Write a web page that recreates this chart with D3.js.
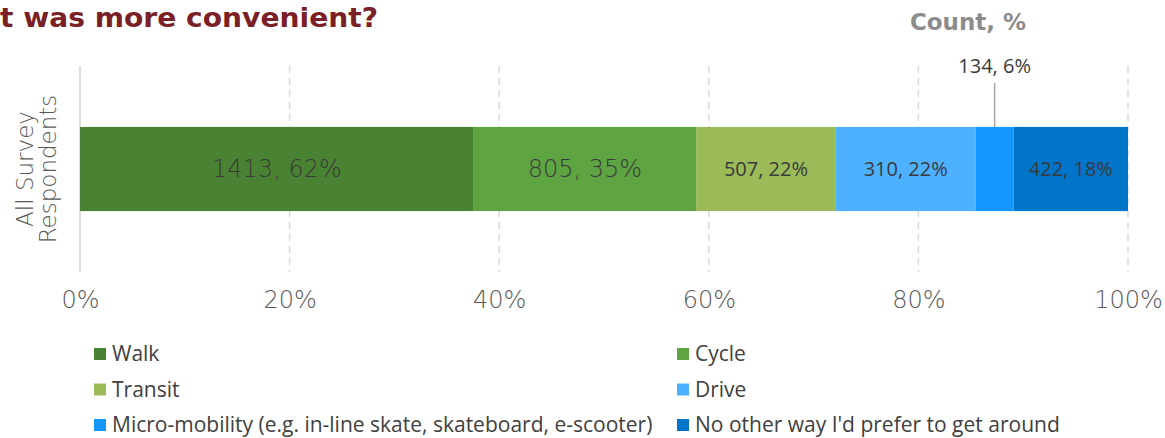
<!DOCTYPE html>
<html>
<head>
<meta charset="utf-8">
<script src="https://cdn.jsdelivr.net/npm/d3@7"></script>
<style>
  body { margin: 0; background: #fff; }
  svg { display: block; }
</style>
</head>
<body>
<div id="chart"></div>
<script>
//*********************** DATA ***********************
var modes = ["Walk", "Cycle", "Transit", "Drive",
             "Micro-mobility (e.g. in-line skate, skateboard, e-scooter)",
             "No other way I'd prefer to get around"],
    counts = [1413, 805, 507, 310, 134, 422],
    pcts = [62, 35, 22, 22, 6, 18],
    colors = ["#4a8233", "#5fa443", "#9bbb59", "#4db1ff", "#1497fe", "#0074c9"],
    rowLabel = ["All Survey", "Respondents"],
    ticks = [0, 0.2, 0.4, 0.6, 0.8, 1.0];

//*********************** SETUP ***********************
var width = 1165,
    height = 438,
    margin = {top: 66, bottom: 166, left: 80, right: 37};

var svg = d3.select("#chart").append("svg")
  .attr("width", width)
  .attr("height", height);

var total = d3.sum(pcts);
var stacked = [];
var acc = 0;
pcts.forEach(function(p, i) {
  stacked.push({mode: modes[i], count: counts[i], pct: p, x0: acc / total, x1: (acc + p) / total, color: colors[i]});
  acc += p;
});

var xScale = d3.scaleLinear().domain([0, 1]).range([margin.left, width - margin.right]),
    yScale = d3.scaleBand().domain(["All"]).range([margin.top, height - margin.bottom]).padding(0.42);

var gothamish = "'DejaVu Sans', sans-serif",
    bodyFont = "'Open Sans', sans-serif";

//title (cut off at left edge like the source)
svg.append("text")
  .attr("x", 0)
  .attr("y", 27)
  .attr("textLength", 378)
  .attr("lengthAdjust", "spacingAndGlyphs")
  .style("font-family", gothamish)
  .style("font-weight", "bold")
  .style("font-size", "27px")
  .style("fill", "#7b1f26")
  .text("t was more convenient?");

svg.append("text")
  .attr("x", 968)
  .attr("y", 30)
  .attr("text-anchor", "middle")
  .style("font-family", gothamish)
  .style("font-weight", "bold")
  .style("font-size", "23px")
  .style("fill", "#8c8c8c")
  .text("Count, %");

//gridlines
svg.append("g").selectAll("line")
  .data(ticks.slice(1))
  .enter().append("line")
  .attr("x1", function(d) { return xScale(d); })
  .attr("x2", function(d) { return xScale(d); })
  .attr("y1", margin.top)
  .attr("y2", height - margin.bottom)
  .attr("stroke", "#d9d9d9")
  .attr("stroke-width", 1.5)
  .attr("stroke-dasharray", "7,5");

//axis line at 0
svg.append("line")
  .attr("x1", xScale(0)).attr("x2", xScale(0))
  .attr("y1", margin.top).attr("y2", height - margin.bottom)
  .attr("stroke", "#d0d0d0")
  .attr("stroke-width", 1.5);

//x axis tick labels
var xAxis = d3.axisBottom(xScale).tickValues(ticks).tickFormat(d3.format(".0%")).tickSize(0).tickPadding(0);
var gx = svg.append("g")
  .attr("transform", "translate(0," + (height - margin.bottom) + ")")
  .call(xAxis);
gx.select(".domain").remove();
gx.selectAll("text")
  .attr("y", 36)
  .attr("dy", 0)
  .style("font-family", gothamish)
  .style("font-weight", "200")
  .style("font-size", "24px")
  .style("fill", "#595959");

//y label
var yl = svg.append("text")
  .attr("transform", "translate(36," + (yScale("All") + yScale.bandwidth() / 2) + ") rotate(-90)")
  .attr("text-anchor", "middle")
  .style("font-family", gothamish)
  .style("font-weight", "200")
  .style("font-size", "23px")
  .style("fill", "#595959");
yl.selectAll("tspan")
  .data(rowLabel)
  .enter().append("tspan")
  .attr("x", 0)
  .attr("y", function(d, i) { return i * 23 - 3; })
  .text(function(d) { return d; });

//bars
var by = yScale("All"), bh = yScale.bandwidth();
svg.append("g").selectAll("rect")
  .data(stacked)
  .enter().append("rect")
  .attr("x", function(d) { return xScale(d.x0); })
  .attr("width", function(d) { return xScale(d.x1) - xScale(d.x0); })
  .attr("y", by)
  .attr("height", bh)
  .attr("fill", function(d) { return d.color; });

//bar labels (first two in the title font, rest in body font)
svg.append("g").selectAll("text")
  .data(stacked.filter(function(d) { return d.pct > 10; }))
  .enter().append("text")
  .attr("x", function(d) { return (xScale(d.x0) + xScale(d.x1)) / 2; })
  .attr("y", by + bh / 2)
  .attr("dy", "0.35em")
  .attr("text-anchor", "middle")
  .style("font-family", function(d, i) { return i < 2 ? gothamish : bodyFont; })
  .style("font-weight", function(d, i) { return i < 2 ? "200" : "400"; })
  .style("font-size", function(d, i) { return i < 2 ? "24px" : "20px"; })
  .style("fill", "#3a3a3a")
  .text(function(d) { return d.count + ", " + d.pct + "%"; });

//callout for the thin slice
var small = stacked.filter(function(d) { return d.pct <= 10; });
small.forEach(function(d) {
  var cx = (xScale(d.x0) + xScale(d.x1)) / 2;
  svg.append("line")
    .attr("x1", cx).attr("x2", cx)
    .attr("y1", 83).attr("y2", by)
    .attr("stroke", "#a6a6a6")
    .attr("stroke-width", 1.5);
  svg.append("text")
    .attr("x", cx)
    .attr("y", 73)
    .attr("text-anchor", "middle")
    .style("font-family", bodyFont)
    .style("font-size", "20px")
    .style("fill", "#3a3a3a")
    .text(d.count + ", " + d.pct + "%");
});

//*********************** LEGEND ***********************
var legend = svg.append("g");
var lg = legend.selectAll("g")
  .data(stacked)
  .enter().append("g")
  .attr("transform", function(d, i) {
    var col = i % 2, row = Math.floor(i / 2);
    return "translate(" + (col === 0 ? 94 : 677) + "," + (354 + row * 35.5) + ")";
  });
lg.append("rect")
  .attr("x", 0).attr("y", -6)
  .attr("width", 12).attr("height", 12)
  .attr("fill", function(d) { return d.color; });
lg.append("text")
  .attr("x", 18)
  .attr("dy", "0.35em")
  .style("font-family", bodyFont)
  .style("font-size", "21px")
  .style("fill", "#404040")
  .text(function(d) { return d.mode; });
</script>
</body>
</html>
